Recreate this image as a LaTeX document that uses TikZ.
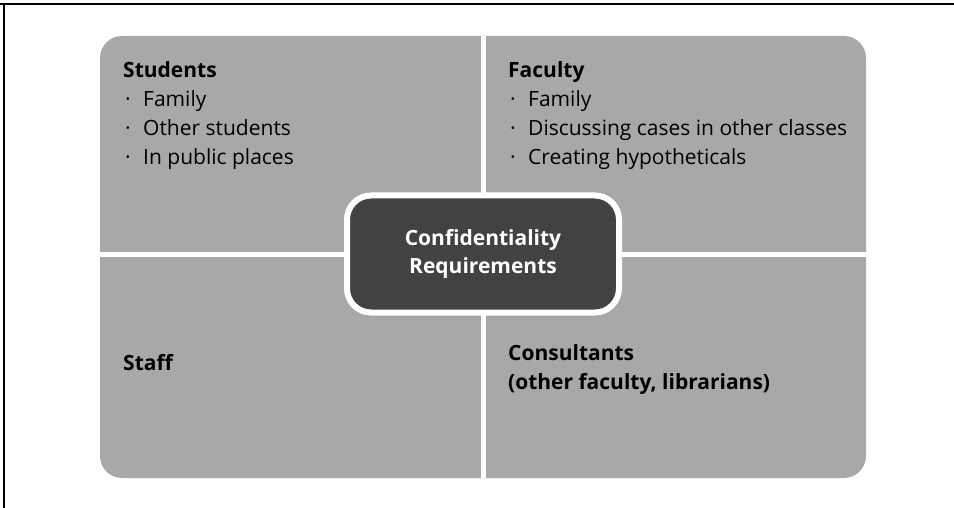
\documentclass[tikz,border=0pt]{standalone}
\usepackage{fontspec}
\setmainfont{Open Sans}
\usetikzlibrary{positioning}

\definecolor{quadgray}{gray}{0.66}
\definecolor{coregray}{gray}{0.26}

% bullet with its indent
\newcommand\itm{\makebox[20pt][l]{\hspace{2pt}·}}

\tikzset{
  quadtext/.style={anchor=north west, inner sep=0pt, align=left,
    font=\fontsize{21}{29}\selectfont},
  corebox/.style={fill=coregray, draw=white, line width=6pt, rounded corners=24pt,
    minimum width=272pt, minimum height=117pt, text=white, align=center,
    font=\bfseries\fontsize{21}{28}\selectfont},
  gapline/.style={white, line width=5pt}
}

\begin{document}
\begin{tikzpicture}[x=1pt,y=-1pt]
  \useasboundingbox (0,0) rectangle (954,508);
  % frame
  \draw[line width=1.2pt] (0,4) -- (954,4);
  \draw[line width=1.2pt] (4,4) -- (4,508);

  % four quadrants, split by white gaps
  \fill[quadgray, rounded corners=22pt] (100,36) rectangle (866,478);
  \draw[gapline] (483.5,36) -- (483.5,478);
  \draw[gapline] (100,254.5) -- (866,254.5);

  % quadrant labels
  \node[quadtext] (students) at (123,61) {\textbf{Students}\\\itm Family\\\itm Other students\\\itm In public places};
  \node[quadtext] (faculty) at (508,61) {\textbf{Faculty}\\\itm Family\\\itm Discussing cases in other classes\\\itm Creating hypotheticals};
  \node[quadtext] (staff) at (123,354) {\textbf{Staff}};
  \node[quadtext] (consultants) at (508,344) {\textbf{Consultants}\\\textbf{(other faculty, librarians)}};

  % centre box
  \node[corebox] (core) at (483,254) {Confidentiality\\Requirements};
\end{tikzpicture}
\end{document}
